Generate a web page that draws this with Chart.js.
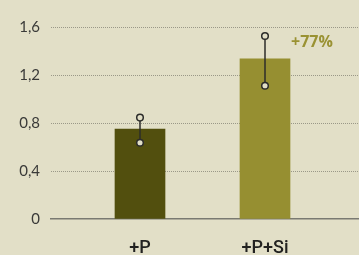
<!DOCTYPE html>
<html>
<head>
<meta charset="utf-8">
<script src="https://cdn.jsdelivr.net/npm/chart.js@4/dist/chart.umd.min.js"></script>
<style>
    html, body { margin: 0; padding: 0; background: #e2dfc7; }
    #wrap { width: 359px; height: 255px; position: relative; }
</style>
</head>
<body>
<div id="wrap"><canvas id="chart"></canvas></div>
<script>
// Dati
const CATEGORIES = ['+P', '+P+Si'];
const VALUES = [0.75, 1.335];
const ERR_LOW = [0.635, 1.11];
const ERR_HIGH = [0.845, 1.525];
const ANNOTATIONS = ['', '+77%'];
const BAR_COLORS = ['#524f0e', '#968f31'];
const Y_TICKS = [0, 0.4, 0.8, 1.2, 1.6];

const THEME = {
    bg: '#e2dfc7',
    text: '#3a3a38',
    grid: '#9a9888',
    axis: '#7a7a72',
    err: '#2c2c2a',
    accent: '#9a9233'
};

// Barre di errore + etichetta percentuale
const errorBars = {
    id: 'errorBars',
    afterDatasetsDraw(chart) {
        const { ctx, scales: { y } } = chart;
        const meta = chart.getDatasetMeta(0);
        meta.data.forEach((bar, i) => {
            const yHi = y.getPixelForValue(ERR_HIGH[i]);
            const yLo = y.getPixelForValue(ERR_LOW[i]);
            ctx.save();
            ctx.strokeStyle = THEME.err;
            ctx.lineWidth = 1.5;
            ctx.beginPath();
            ctx.moveTo(bar.x, yHi);
            ctx.lineTo(bar.x, yLo);
            ctx.stroke();
            [yHi, yLo].forEach(py => {
                ctx.beginPath();
                ctx.arc(bar.x, py, 3.3, 0, Math.PI * 2);
                ctx.fillStyle = THEME.bg;
                ctx.fill();
                ctx.stroke();
            });
            if (ANNOTATIONS[i]) {
                ctx.fillStyle = THEME.accent;
                ctx.font = "bold 16px 'Open Sans', sans-serif";
                ctx.textAlign = 'left';
                ctx.textBaseline = 'middle';
                ctx.fillText(ANNOTATIONS[i], bar.x + bar.width / 2 + 1, yHi + 6);
            }
            ctx.restore();
        });
    }
};

new Chart(document.getElementById('chart'), {
    type: 'bar',
    data: {
        datasets: [{
            data: VALUES.map((v, i) => ({ x: i + 1, y: v })),
            backgroundColor: BAR_COLORS,
            barThickness: 50
        }]
    },
    options: {
        responsive: true,
        maintainAspectRatio: false,
        animation: false,
        layout: { padding: { top: 27, right: 0, left: 0, bottom: 0 } },
        plugins: { legend: { display: false }, tooltip: { enabled: false } },
        scales: {
            x: {
                type: 'linear',
                offset: false,
                min: 0.288,
                max: 2.752,
                afterBuildTicks: (scale) => { scale.ticks = CATEGORIES.map((c, i) => ({ value: i + 1 })); },
                afterFit: (scale) => { scale.height = 36; },
                grid: { display: false, drawTicks: false, offset: false },
                border: { display: true, color: THEME.axis, width: 1.5 },
                ticks: {
                    padding: 19,
                    color: '#222220',
                    font: { family: "Roboto, sans-serif", size: 18, weight: '500' },
                    callback: (v) => CATEGORIES[Math.round(v) - 1] || ''
                }
            },
            y: {
                min: 0,
                max: 1.6,
                afterBuildTicks: (scale) => { scale.ticks = Y_TICKS.map(v => ({ value: v })); },
                afterFit: (scale) => { scale.width = 51; },
                grid: {
                    drawTicks: false,
                    color: (c) => c.tick && c.tick.value === 0 ? 'rgba(0,0,0,0)' : THEME.grid,
                    lineWidth: 1
                },
                border: { display: false, dash: [1, 1] },
                ticks: {
                    padding: 11,
                    color: THEME.text,
                    font: { family: "'Lato', sans-serif", size: 15, weight: '400' },
                    callback: (v) => v === 0 ? '0' : v.toFixed(1).replace('.', ',')
                }
            }
        }
    },
    plugins: [errorBars]
});
</script>
</body>
</html>
